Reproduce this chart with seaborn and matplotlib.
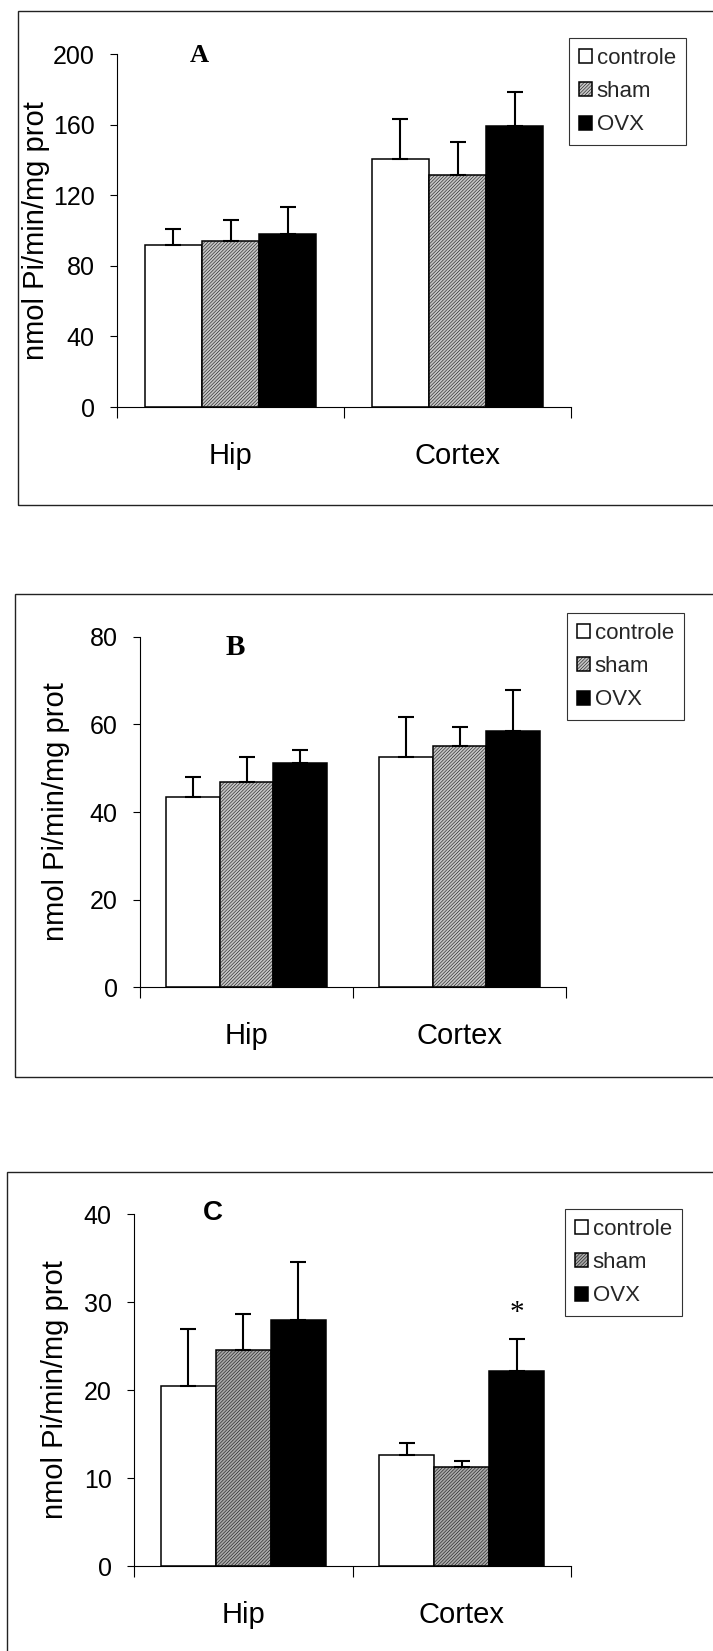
import matplotlib
matplotlib.use("Agg")
import matplotlib.pyplot as plt
from matplotlib.patches import Rectangle
import seaborn as sns
import pandas as pd
import numpy as np

# ---------------- data ----------------
regions = ["Hip", "Cortex"]
groups = ["controle", "sham", "OVX"]

A_controle = [92.0, 140.5]
A_sham = [94.0, 131.5]
A_ovx = [98.0, 159.0]
A_err_controle = [9.0, 22.5]
A_err_sham = [12.0, 18.5]
A_err_ovx = [15.5, 19.5]

B_controle = [43.4, 52.6]
B_sham = [46.9, 55.1]
B_ovx = [51.2, 58.5]
B_err_controle = [4.6, 9.1]
B_err_sham = [5.7, 4.3]
B_err_ovx = [3.0, 9.4]

C_controle = [20.5, 12.6]
C_sham = [24.5, 11.2]
C_ovx = [27.9, 22.2]
C_err_controle = [6.4, 1.4]
C_err_sham = [4.1, 0.7]
C_err_ovx = [6.7, 3.6]

A_ticks = [0, 40, 80, 120, 160, 200]
B_ticks = [0, 20, 40, 60, 80]
C_ticks = [0, 10, 20, 30, 40]

ylabel = "nmol Pi/min/mg prot"
C_star_y = 28.0

# ---------------- style ----------------
sns.set_theme(style="white")
plt.rcParams["font.family"] = ["Liberation Sans", "DejaVu Sans"]
plt.rcParams["hatch.linewidth"] = 0.35

W, H = 713, 1651
fig = plt.figure(figsize=(W / 100, H / 100), dpi=100)


def fx(px):
    return px / W


def fy(py):
    return 1 - py / H


def make_df(c, s, o, ec, es, eo):
    rows = []
    for g, vals, errs in zip(groups, [c, s, o], [ec, es, eo]):
        for r, v, e in zip(regions, vals, errs):
            rows.append({"region": r, "group": g, "value": v, "err": e})
    return pd.DataFrame(rows)


panels = [
    dict(df=make_df(A_controle, A_sham, A_ovx, A_err_controle, A_err_sham, A_err_ovx),
         ticks=A_ticks, left=117, right=571, y0=407, ytop=54,
         frame=(18, 11, 505), legend=(569, 38), letter="A", letter_pos=(199, 55),
         letter_font=["Liberation Serif"], letter_size=19, ylab_x=-0.178,
         sham_color="#c4c4c4"),
    dict(df=make_df(B_controle, B_sham, B_ovx, B_err_controle, B_err_sham, B_err_ovx),
         ticks=B_ticks, left=140, right=566, y0=987, ytop=637,
         frame=(15, 594, 1077), legend=(567, 613), letter="B", letter_pos=(235, 647),
         letter_font=["Liberation Serif"], letter_size=21, ylab_x=-0.197,
         sham_color="#c4c4c4"),
    dict(df=make_df(C_controle, C_sham, C_ovx, C_err_controle, C_err_sham, C_err_ovx),
         ticks=C_ticks, left=134, right=571, y0=1566, ytop=1214,
         frame=(7, 1172, 1700), legend=(565, 1209), letter="C", letter_pos=(213, 1213),
         letter_font=["Liberation Sans"], letter_size=20, ylab_x=-0.181,
         sham_color="#a8a8a8"),
]

for p in panels:
    ax = fig.add_axes([fx(p["left"]), fy(p["y0"]), fx(p["right"] - p["left"]),
                       (p["y0"] - p["ytop"]) / H])
    df = p["df"]
    pal = {"controle": "white", "sham": p["sham_color"], "OVX": "black"}
    sns.barplot(data=df, x="region", y="value", hue="group", order=regions,
                hue_order=groups, palette=pal, width=0.755, gap=0,
                edgecolor="black", linewidth=1.1, errorbar=None, legend=False,
                saturation=1, ax=ax)
    # fine texture on sham bars
    for bar in ax.containers[1]:
        bar.set_hatch("//////////")
    # upward error bars
    for gi, g in enumerate(groups):
        cont = ax.containers[gi]
        sub = df[df["group"] == g].set_index("region").loc[regions]
        xs = [b.get_x() + b.get_width() / 2 for b in cont]
        ys = sub["value"].values
        errs = sub["err"].values
        ax.errorbar(xs, ys, yerr=[np.zeros_like(errs), errs], fmt="none",
                    ecolor="black", elinewidth=1.5, capsize=6, capthick=1.5,
                    zorder=3)
    ax.set_xlim(-0.5, 1.5)
    ax.set_ylim(p["ticks"][0], p["ticks"][-1])
    ax.set_yticks(p["ticks"])
    ax.set_yticklabels([str(t) for t in p["ticks"]])
    ax.set_xticks([0, 1])
    ax.set_xticklabels(regions)
    ax.set_xticks([-0.5, 0.5, 1.5], minor=True)
    ax.tick_params(axis="x", which="major", length=0, pad=25, labelsize=21,
                   colors="black")
    ax.tick_params(axis="x", which="minor", length=8, width=0.8, direction="out",
                   color="black", bottom=True)
    ax.tick_params(axis="y", which="major", length=5, width=0.8, direction="out",
                   pad=11, labelsize=18, colors="black", left=True)
    ax.set_xlabel("")
    ax.set_ylabel(ylabel, fontsize=21, color="black")
    ax.yaxis.set_label_coords(p["ylab_x"], 0.5)
    ax.yaxis.label.set_verticalalignment("center")
    for side in ["top", "right"]:
        ax.spines[side].set_visible(False)
    for side in ["left", "bottom"]:
        ax.spines[side].set_color("black")
        ax.spines[side].set_linewidth(0.8)
    ax.set_facecolor("white")
    # legend
    handles = [c[0] for c in ax.containers]
    lx, ly = p["legend"]
    leg = fig.legend(handles=handles, labels=groups, loc="upper left",
                     bbox_to_anchor=(fx(lx), fy(ly)), bbox_transform=fig.transFigure,
                     fontsize=16, frameon=True, fancybox=False, shadow=False,
                     borderpad=0.45, labelspacing=0.55, handlelength=0.6,
                     handleheight=0.6, handletextpad=0.2, borderaxespad=0)
    leg.get_frame().set_edgecolor("black")
    leg.get_frame().set_linewidth(0.8)
    # panel letter
    fig.text(fx(p["letter_pos"][0]), fy(p["letter_pos"][1]), p["letter"],
             ha="center", va="center", fontsize=p["letter_size"], fontweight="bold",
             family=p["letter_font"], color="black")
    # frame
    l, t, b = p["frame"]
    fig.patches.append(Rectangle((fx(l), fy(b)), 1.2, (b - t) / H,
                                 transform=fig.transFigure, fill=False,
                                 edgecolor="#222222", linewidth=1.0, clip_on=False))
    if p["letter"] == "C":
        cont = ax.containers[2]
        bar = cont[1]
        ax.text(bar.get_x() + bar.get_width() / 2, C_star_y, "*", ha="center",
                va="baseline", fontsize=21, family=["Liberation Serif"], color="black")

fig.savefig("out.png", dpi=100, facecolor="white")
